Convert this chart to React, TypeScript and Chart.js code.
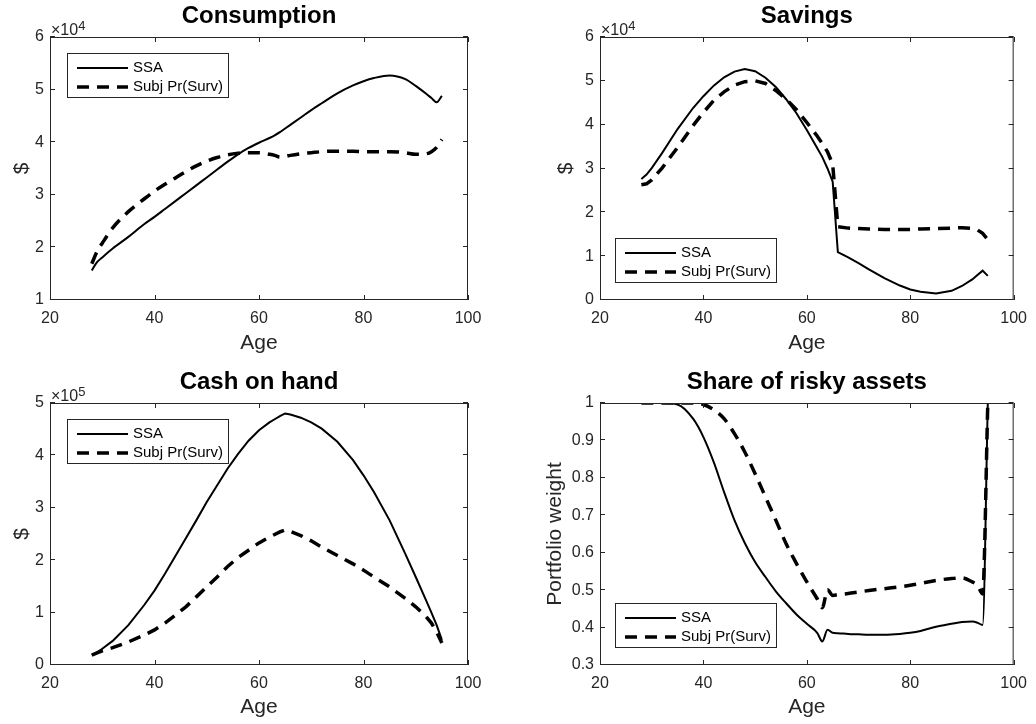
import React, { useEffect, useRef } from "react";
import { Chart, registerables } from "chart.js";

Chart.register(...registerables);

// ---------- data ----------
const ages = [28, 29, 30, 32, 35, 38, 40, 42, 44, 46, 48, 50, 52, 54, 56, 58, 60, 62, 63, 64, 65, 66, 68, 70, 72, 75, 78, 80, 82, 85, 88, 90, 92, 93, 94, 95];

const seriesLabels = ["SSA", "Subj Pr(Surv)"];
const panelTitles = ["Consumption", "Savings", "Cash on hand", "Share of risky assets"];
const yAxisTitles = ["$", "$", "$", "Portfolio weight"];
const xAxisTitle = "Age";
const xTicks = [20, 40, 60, 80, 100];

const consumptionSSA = [15600, 17200, 18100, 19800, 22000, 24400, 25800, 27300, 28800, 30300, 31800, 33300, 34800, 36300, 37700, 38900, 39900, 40800, 41300, 41900, 42600, 43300, 44700, 46100, 47400, 49300, 50800, 51600, 52200, 52700, 52000, 50700, 49200, 48400, 47600, 48800];
const consumptionSubj = [16900, 19200, 20800, 23700, 26800, 29200, 30700, 32000, 33200, 34400, 35500, 36400, 37100, 37600, 37900, 38000, 38000, 37700, 37500, 37200, 37300, 37500, 37800, 38000, 38200, 38300, 38300, 38200, 38200, 38200, 38000, 37700, 37800, 38200, 39000, 40500];

const savingsSSA = [27600, 28600, 30100, 33500, 39000, 43800, 46500, 48900, 50800, 52100, 52700, 52200, 50700, 48600, 45800, 42600, 38800, 34700, 32600, 30000, 27000, 10900, 9700, 8400, 7000, 5000, 3300, 2400, 1900, 1500, 2100, 3200, 4700, 5700, 6700, 5500];
const savingsSubj = [26300, 26500, 27400, 30100, 34800, 39800, 42800, 45500, 47500, 49000, 49800, 50000, 49400, 47800, 45800, 43400, 40500, 37400, 35700, 33800, 31000, 16700, 16400, 16300, 16200, 16100, 16100, 16100, 16200, 16300, 16400, 16500, 16300, 16000, 15200, 13800];

const cashSSA = [19000, 24000, 31000, 46000, 76000, 114000, 142000, 174000, 208000, 242000, 276000, 311000, 343000, 375000, 403000, 428000, 448000, 463000, 469000, 475000, 480000, 478000, 472000, 463000, 451000, 426000, 391000, 362000, 330000, 276000, 212000, 168000, 123000, 100000, 76000, 48000];
const cashSubj = [19000, 23000, 27000, 33000, 44000, 57000, 67000, 80000, 95000, 111000, 130000, 149000, 168000, 188000, 205000, 219000, 233000, 244000, 249000, 254000, 258000, 255000, 247000, 237000, 225000, 209000, 193000, 181000, 168000, 149000, 127000, 111000, 92000, 80000, 63000, 42000];

const riskySSA = [1, 1, 1, 1, 0.996, 0.958, 0.909, 0.842, 0.762, 0.687, 0.626, 0.575, 0.535, 0.497, 0.465, 0.435, 0.41, 0.386, 0.363, 0.394, 0.386, 0.385, 0.383, 0.382, 0.381, 0.381, 0.383, 0.386, 0.391, 0.402, 0.41, 0.415, 0.416, 0.413, 0.407, 1.0];
const riskySubj = [1, 1, 1, 1, 1, 1, 0.996, 0.982, 0.958, 0.918, 0.869, 0.811, 0.749, 0.687, 0.624, 0.571, 0.522, 0.477, 0.453, 0.501, 0.486, 0.488, 0.491, 0.495, 0.499, 0.504, 0.509, 0.513, 0.518, 0.526, 0.531, 0.533, 0.522, 0.513, 0.49, 1.0];

const yRanges = [
  { min: 10000, max: 60000, step: 10000, exp: 4 },
  { min: 0, max: 60000, step: 10000, exp: 4 },
  { min: 0, max: 500000, step: 100000, exp: 5 },
  { min: 0.3, max: 1, step: 0.1, exp: 0 },
];

const seriesByPanel = [
  [consumptionSSA, consumptionSubj],
  [savingsSSA, savingsSubj],
  [cashSSA, cashSubj],
  [riskySSA, riskySubj],
];

// ---------- layout / style ----------
const FONT = "'Liberation Sans', Arial, Helvetica, sans-serif";
const AXIS_COLOR = "#262626";
const W = 518;
const H = 362;

const layouts = [
  { x: 0, y: 0, area: { l: 50, t: 37, r: 468, b: 300 }, yTitleX: 22, titleTop: 2.3, xTitlePad: 6.5, smooth: true, legend: { anchor: "top", dx: 17, dy: 16 } },
  { x: 518, y: 0, area: { l: 82, t: 37, r: 500, b: 300 }, yTitleX: 48, titleTop: 2.3, xTitlePad: 6.5, smooth: false, legend: { anchor: "bottom", dx: 15, dy: 17 } },
  { x: 0, y: 362, area: { l: 50, t: 41, r: 468, b: 303 }, yTitleX: 22, titleTop: 6.3, xTitlePad: 4, smooth: false, legend: { anchor: "top", dx: 17, dy: 16 } },
  { x: 518, y: 362, area: { l: 82, t: 41, r: 500, b: 303 }, yTitleX: 37, titleTop: 6.3, xTitlePad: 4, smooth: true, legend: { anchor: "bottom", dx: 15, dy: 17 } },
];

const matlabAxes = {
  id: "matlabAxes",
  afterDatasetsDraw(chart: any, _args: any, opts: any) {
    const { ctx, chartArea: a, scales } = chart;
    ctx.save();
    ctx.setLineDash([]);
    ctx.strokeStyle = AXIS_COLOR;
    ctx.lineWidth = 1;
    ctx.strokeRect(a.left + 0.5, a.top + 0.5, a.right - a.left - 1, a.bottom - a.top - 1);
    const tl = 5;
    ctx.beginPath();
    for (const t of scales.x.ticks) {
      const px = Math.round(scales.x.getPixelForValue(t.value)) + 0.5;
      ctx.moveTo(px, a.bottom);
      ctx.lineTo(px, a.bottom - tl);
      ctx.moveTo(px, a.top);
      ctx.lineTo(px, a.top + tl);
    }
    for (const t of scales.y.ticks) {
      const py = Math.round(scales.y.getPixelForValue(t.value)) - 0.5;
      ctx.moveTo(a.left, py);
      ctx.lineTo(a.left + tl, py);
      ctx.moveTo(a.right, py);
      ctx.lineTo(a.right - tl, py);
    }
    ctx.stroke();

    // exponent label
    if (opts.exp) {
      ctx.fillStyle = AXIS_COLOR;
      ctx.textAlign = "left";
      ctx.textBaseline = "alphabetic";
      ctx.font = `16px ${FONT}`;
      const base = "\u00d710";
      ctx.fillText(base, a.left + 1, a.top - 2);
      const w = ctx.measureText(base).width;
      ctx.font = `13px ${FONT}`;
      ctx.fillText(String(opts.exp), a.left + 1 + w, a.top - 7);
    }

    // legend box
    const lg = opts.legend;
    const bw = 162;
    const bh = 45;
    const bx = a.left + lg.dx;
    const by = lg.anchor === "top" ? a.top + lg.dy : a.bottom - lg.dy - bh;
    ctx.fillStyle = "#ffffff";
    ctx.fillRect(bx, by, bw, bh);
    ctx.strokeStyle = AXIS_COLOR;
    ctx.lineWidth = 1;
    ctx.strokeRect(bx + 0.5, by + 0.5, bw - 1, bh - 1);
    chart.data.datasets.forEach((ds: any, i: number) => {
      const cy = by + 15 + i * 19;
      ctx.beginPath();
      ctx.setLineDash(ds.borderDash || []);
      ctx.lineWidth = ds.borderWidth;
      ctx.strokeStyle = ds.borderColor;
      ctx.moveTo(bx + 10, cy);
      ctx.lineTo(bx + 61, cy);
      ctx.stroke();
      ctx.setLineDash([]);
      ctx.fillStyle = "#000000";
      ctx.font = `15px ${FONT}`;
      ctx.textAlign = "left";
      ctx.textBaseline = "middle";
      ctx.fillText(ds.label, bx + 66, cy);
    });
    ctx.restore();
  },
};

function fmt(v: number, exp: number) {
  const s = v / Math.pow(10, exp);
  return String(Number(s.toFixed(2)));
}

function Panel({ idx }: { idx: number }) {
  const ref = useRef<HTMLCanvasElement>(null);
  const lay = layouts[idx];
  useEffect(() => {
    const yr = yRanges[idx];
    const [ssa, subj] = seriesByPanel[idx];
    const a = lay.area;
    const interp = lay.smooth ? "monotone" : "default";
    const chart = new Chart(ref.current as HTMLCanvasElement, {
      type: "line",
      data: {
        datasets: [
          {
            label: seriesLabels[0],
            data: ages.map((x, i) => ({ x, y: ssa[i] })),
            borderColor: "#000000",
            borderWidth: 2,
            pointRadius: 0,
            fill: false,
            tension: 0,
            cubicInterpolationMode: interp,
          },
          {
            label: seriesLabels[1],
            data: ages.map((x, i) => ({ x, y: subj[i] })),
            borderColor: "#000000",
            borderWidth: 3.5,
            borderDash: [12, 8],
            pointRadius: 0,
            fill: false,
            tension: 0,
            cubicInterpolationMode: interp,
          },
        ],
      },
      options: {
        responsive: false,
        animation: false,
        events: [],
        layout: { padding: { left: 0, top: 0, right: W - a.r, bottom: 0 } },
        plugins: {
          legend: { display: false },
          tooltip: { enabled: false },
          title: {
            display: true,
            text: panelTitles[idx],
            fullSize: false,
            color: "#000000",
            font: { family: FONT, size: 24, weight: "bold", lineHeight: 1.2 },
            padding: { top: lay.titleTop, bottom: a.t - 28.8 - lay.titleTop },
          },
          matlabAxes: { exp: yr.exp, legend: lay.legend },
        } as any,
        scales: {
          x: {
            type: "linear",
            min: xTicks[0],
            max: xTicks[xTicks.length - 1],
            afterBuildTicks: (s: any) => {
              s.ticks = xTicks.map((v) => ({ value: v }));
            },
            ticks: {
              padding: 9,
              color: AXIS_COLOR,
              font: { family: FONT, size: 16 },
              maxRotation: 0,
              autoSkip: false,
            },
            grid: { display: false, drawTicks: false },
            border: { display: false },
            title: {
              display: true,
              text: xAxisTitle,
              color: AXIS_COLOR,
              font: { family: FONT, size: 21, lineHeight: 1.2 },
              padding: { top: 0, bottom: lay.xTitlePad },
            },
            afterFit: (s: any) => {
              s.height = H - a.b;
            },
          },
          y: {
            type: "linear",
            min: yr.min,
            max: yr.max,
            ticks: {
              stepSize: yr.step,
              padding: 6,
              color: AXIS_COLOR,
              font: { family: FONT, size: 16 },
              callback: (v: any) => fmt(Number(v), yr.exp),
            },
            grid: { display: false, drawTicks: false },
            border: { display: false },
            title: {
              display: true,
              text: yAxisTitles[idx],
              color: AXIS_COLOR,
              font: { family: FONT, size: 21, lineHeight: 1.2 },
              padding: { top: lay.yTitleX - 12.6, bottom: 0 },
            },
            afterFit: (s: any) => {
              s.width = a.l;
            },
          },
        },
      } as any,
      plugins: [matlabAxes],
    });
    return () => chart.destroy();
  }, []);
  return (
    <canvas
      ref={ref}
      width={W}
      height={H}
      style={{ position: "absolute", left: lay.x, top: lay.y, width: W, height: H }}
    />
  );
}

export default function App() {
  return (
    <div style={{ position: "absolute", left: 0, top: 0, width: 1036, height: 724, background: "#ffffff" }}>
      {[0, 1, 2, 3].map((i) => (
        <Panel key={i} idx={i} />
      ))}
    </div>
  );
}
